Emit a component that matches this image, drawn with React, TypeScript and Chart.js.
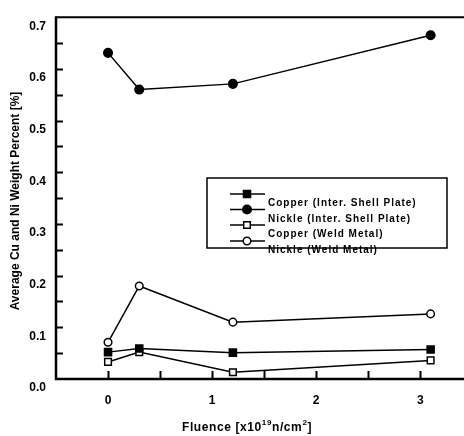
import React, { useEffect, useRef } from 'react';
import { Chart, registerables } from 'chart.js';

Chart.register(...registerables);

// ---- data ----
const fluence = [0, 0.3, 1.2, 3.1];
const copperPlate = [0.052, 0.059, 0.051, 0.057];
const nickelPlate = [0.631, 0.56, 0.571, 0.665];
const copperWeld = [0.033, 0.052, 0.013, 0.036];
const nickelWeld = [0.071, 0.18, 0.11, 0.126];
const seriesLabels = [
  'Copper (Inter. Shell Plate)',
  'Nickle (Inter. Shell Plate)',
  'Copper (Weld Metal)',
  'Nickle (Weld Metal)',
];
const seriesStyles = ['rect', 'circle', 'rect', 'circle'];
const seriesFilled = [true, true, false, false];
const yTitle = 'Average Cu and Ni Weight Percent [%]';
const xTitleParts = ['Fluence [x10', '19', 'n/cm', '2', ']'];

const FONT = '"Liberation Sans", Arial, Helvetica, sans-serif';

function drawMarker(ctx: CanvasRenderingContext2D, style: string, filled: boolean, x: number, y: number) {
  ctx.save();
  ctx.lineWidth = 1.5;
  ctx.strokeStyle = '#000';
  ctx.fillStyle = filled ? '#000' : '#fff';
  ctx.beginPath();
  if (style === 'rect') {
    const s = filled ? 3.5 : 3.3;
    ctx.rect(x - s, y - s, 2 * s, 2 * s);
  } else {
    ctx.arc(x, y, filled ? 4.3 : 3.8, 0, Math.PI * 2);
  }
  ctx.fill();
  ctx.stroke();
  ctx.restore();
}

const decorPlugin = {
  id: 'decor',
  afterDraw(chart: any) {
    const { ctx, chartArea: a, scales } = chart;
    const xs = scales.x;
    const ys = scales.y;
    ctx.save();
    ctx.strokeStyle = '#000';
    ctx.lineCap = 'butt';
    // frame: left, bottom, top (no right border visible)
    ctx.lineWidth = 2.5;
    ctx.beginPath();
    ctx.moveTo(a.left, a.top - 1);
    ctx.lineTo(a.left, a.bottom);
    ctx.lineTo(a.right, a.bottom);
    ctx.stroke();
    ctx.lineWidth = 2;
    ctx.beginPath();
    ctx.moveTo(a.left, a.top);
    ctx.lineTo(a.right, a.top);
    ctx.stroke();

    // inward tick marks
    ctx.lineWidth = 2;
    ys.ticks.forEach((t: any) => {
      if (t.value <= ys.min + 1e-9 || t.value >= ys.max - 1e-9) return;
      const py = Math.round(ys.getPixelForValue(t.value)) + 0.5;
      ctx.beginPath();
      ctx.moveTo(a.left, py);
      ctx.lineTo(a.left + 7, py);
      ctx.stroke();
    });
    xs.ticks.forEach((t: any) => {
      const v = t.value;
      if (v <= xs.min + 1e-9 || v >= xs.max - 1e-9) return;
      if (Math.abs(v * 2 - Math.round(v * 2)) > 1e-6) return;
      const px = Math.round(xs.getPixelForValue(v)) + 0.5;
      ctx.beginPath();
      ctx.moveTo(px, a.bottom);
      ctx.lineTo(px, a.bottom - 8);
      ctx.stroke();
    });

    ctx.fillStyle = '#000';
    // y title
    ctx.save();
    ctx.translate(16, 201);
    ctx.rotate(-Math.PI / 2);
    ctx.font = `bold 12px ${FONT}`;
    ctx.textAlign = 'center';
    ctx.textBaseline = 'middle';
    ctx.fillText(yTitle, 0, 0);
    ctx.restore();

    // x title with superscripts
    const big = `bold 12px ${FONT}`;
    const small = `bold 8px ${FONT}`;
    const fonts = [big, small, big, small, big];
    const raise = [0, -5, 0, -5, 0];
    (ctx as any).letterSpacing = '0.6px';
    let total = 0;
    const widths = xTitleParts.map((p, i) => {
      ctx.font = fonts[i];
      const w = ctx.measureText(p).width;
      total += w;
      return w;
    });
    let cx = 247 - total / 2;
    ctx.textAlign = 'left';
    ctx.textBaseline = 'middle';
    xTitleParts.forEach((p, i) => {
      ctx.font = fonts[i];
      ctx.fillText(p, cx, 428 + raise[i]);
      cx += widths[i];
    });

    // legend box (labels sit one line lower than their markers, as in the reference)
    const bx = 207, by = 178, bw = 240, bh = 70;
    ctx.lineWidth = 1.5;
    ctx.strokeStyle = '#000';
    ctx.fillStyle = '#fff';
    ctx.fillRect(bx, by, bw, bh);
    ctx.strokeRect(bx, by, bw, bh);
    const rowY = [194, 209.5, 225, 241];
    ctx.font = `bold 10px ${FONT}`;
    (ctx as any).letterSpacing = '1px';
    ctx.textBaseline = 'middle';
    seriesLabels.forEach((lab, i) => {
      ctx.lineWidth = 1.3;
      ctx.strokeStyle = '#000';
      ctx.beginPath();
      ctx.moveTo(230, rowY[i]);
      ctx.lineTo(265, rowY[i]);
      ctx.stroke();
      drawMarker(ctx, seriesStyles[i], seriesFilled[i], 247, rowY[i]);
      ctx.fillStyle = '#000';
      ctx.fillText(lab, 268, rowY[i] + 9.5);
    });
    (ctx as any).letterSpacing = '0px';
    ctx.restore();
  },
};

export default function App() {
  const ref = useRef<HTMLCanvasElement>(null);
  useEffect(() => {
    if (!ref.current) return;
    const series = [copperPlate, nickelPlate, copperWeld, nickelWeld];
    const datasets = series.map((vals, i) => ({
      label: seriesLabels[i],
      data: vals.map((v, j) => ({ x: fluence[j], y: v })),
      borderColor: '#000',
      borderWidth: 1.5,
      backgroundColor: seriesFilled[i] ? '#000' : '#fff',
      pointStyle: seriesStyles[i],
      pointRadius: seriesStyles[i] === 'rect' ? (seriesFilled[i] ? 5 : 4.7) : seriesFilled[i] ? 4.3 : 3.8,
      pointBackgroundColor: seriesFilled[i] ? '#000' : '#fff',
      pointBorderColor: '#000',
      pointBorderWidth: 1.5,
      tension: 0,
      clip: false as any,
    }));
    const chart = new Chart(ref.current, {
      type: 'line',
      data: { datasets },
      plugins: [decorPlugin],
      options: {
        responsive: false,
        animation: false,
        layout: { padding: { top: 10, right: 0, left: 0, bottom: 0 } },
        plugins: { legend: { display: false }, tooltip: { enabled: false } },
        scales: {
          x: {
            type: 'linear',
            min: -0.5,
            max: 3.44,
            grid: { display: false, drawTicks: false },
            border: { display: false },
            ticks: {
              stepSize: 0.5,
              autoSkip: false,
              maxRotation: 0,
              padding: 14,
              color: '#000',
              font: { family: FONT, size: 12, weight: 'bold' },
              callback: (v: any) => (Math.abs(v - Math.round(v)) < 1e-6 ? String(Math.round(v)) : ''),
            },
            afterFit: (s: any) => {
              s.height = 57;
            },
          },
          y: {
            type: 'linear',
            min: 0,
            max: 0.7,
            grid: { display: false, drawTicks: false },
            border: { display: false },
            ticks: {
              stepSize: 0.05,
              autoSkip: false,
              padding: 10,
              labelOffset: 9,
              color: '#000',
              font: { family: FONT, size: 12, weight: 'bold' },
              callback: (v: any) =>
                Math.abs(v * 10 - Math.round(v * 10)) < 1e-6 ? (Math.round(v * 10) / 10).toFixed(1) : '',
            },
            afterFit: (s: any) => {
              s.width = 56;
            },
          },
        },
      },
    });
    return () => chart.destroy();
  }, []);
  return (
    <div
      style={{
        position: 'absolute',
        left: 0,
        top: 0,
        width: 464,
        height: 436,
        overflow: 'hidden',
        background: '#fff',
      }}
    >
      <canvas ref={ref} width={480} height={436} style={{ display: 'block' }} />
    </div>
  );
}
